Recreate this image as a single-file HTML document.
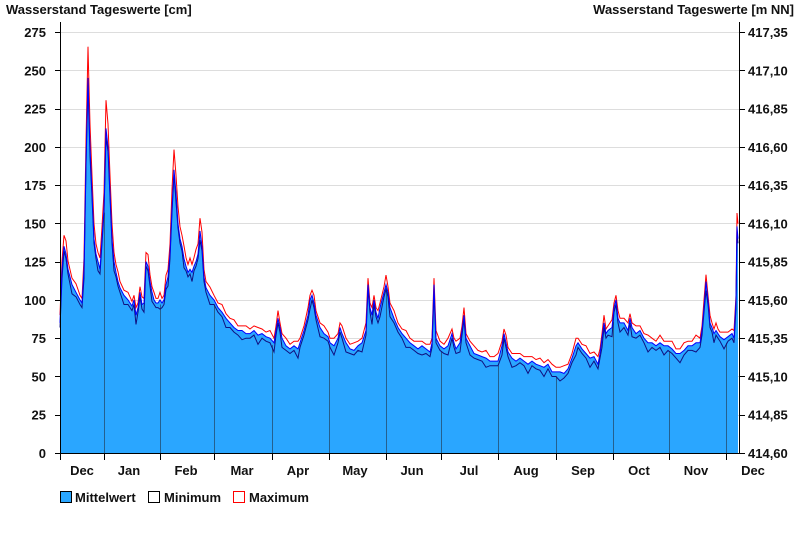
<!DOCTYPE html>
<html><head><meta charset="utf-8"><style>
body{margin:0;background:#fff;width:800px;height:550px;overflow:hidden}
svg text{font-family:"Liberation Sans",Arial,sans-serif;font-weight:bold;font-size:13px;fill:#111}
</style></head><body>
<svg id="s" width="800" height="550" xmlns="http://www.w3.org/2000/svg">
<g id="grid"></g>
<path id="fill" fill="#2aa6ff" stroke="none"/>
<g id="mlines"></g>
<path id="pmax" fill="none" stroke="#ff0000" stroke-width="1"/>
<path id="pmin" fill="none" stroke="#101080" stroke-width="1"/>
<path id="pmean" fill="none" stroke="#0000ff" stroke-width="1"/>
<line x1="60.5" y1="22" x2="60.5" y2="453" stroke="#000"/>
<line x1="739.5" y1="22" x2="739.5" y2="453" stroke="#000"/>
<line x1="60" y1="453.5" x2="740" y2="453.5" stroke="#000"/>
<g id="axes"></g>
<text x="6" y="14">Wasserstand Tageswerte [cm]</text>
<text x="794" y="14" text-anchor="end">Wasserstand Tageswerte [m NN]</text>
<rect x="60.5" y="491.5" width="11" height="11" fill="#2aa6ff" stroke="#000"/>
<text x="75" y="502">Mittelwert</text>
<rect x="148.5" y="491.5" width="11" height="11" fill="#fff" stroke="#000"/>
<text x="164" y="502">Minimum</text>
<rect x="233.5" y="491.5" width="11" height="11" fill="#fff" stroke="#f00"/>
<text x="249" y="502">Maximum</text>
</svg>
<script>
var Y=v=>453-v*421/275;
var g=document.getElementById('grid'),a=document.getElementById('axes'),ml=document.getElementById('mlines');
var h='',ax='';
for(var i=0;i<=11;i++){var v=i*25,y=Y(v);
 if(i>0)h+='<line x1="61" x2="739" y1="'+(Math.round(y)+.5)+'" y2="'+(Math.round(y)+.5)+'" stroke="#ddd"/>';
 ax+='<line x1="55" x2="60" y1="'+(Math.round(y)+.5)+'" y2="'+(Math.round(y)+.5)+'" stroke="#000"/>';
 ax+='<line x1="740" x2="745" y1="'+(Math.round(y)+.5)+'" y2="'+(Math.round(y)+.5)+'" stroke="#000"/>';
 ax+='<text x="46" y="'+(y+5)+'" text-anchor="end">'+v+'</text>';
 ax+='<text x="748" y="'+(y+5)+'">'+(414.60+i*0.25).toFixed(2).replace('.',',')+'</text>';}
g.innerHTML=h;
var d=[60,85,62,120,64,135,66,130,68,120,72,110,76,105,80,100,82,98,84,120,86,190,88,245,89,220,90,200,92,170,94,140,96,130,98,125,100,120,102,140,104,160,106,212,108,200,110,170,112,140,114,125,116,118,118,112,120,108,124,103,128,100,132,96,134,100,136,90,138,95,140,105,142,97,144,98,146,125,148,122,150,112,152,105,154,100,156,98,158,98,160,100,162,98,164,100,166,110,168,115,170,130,172,160,174,185,176,170,178,150,180,140,182,135,184,127,186,122,188,118,190,120,192,118,194,122,196,125,198,130,200,145,202,135,204,115,206,108,210,103,214,100,218,95,222,92,226,88,230,85,234,82,238,80,242,80,246,78,250,78,254,80,258,77,262,78,266,76,270,75,274,72,276,80,278,88,280,82,282,75,286,70,290,68,294,70,298,68,300,72,304,80,308,90,310,100,312,103,314,98,316,90,320,82,324,78,328,76,330,72,334,70,338,75,340,82,342,78,346,72,350,68,354,67,358,70,362,72,366,80,368,110,370,95,372,90,374,100,376,92,378,88,380,95,384,105,386,110,388,105,390,95,394,88,398,82,402,78,406,75,410,72,414,70,418,68,422,70,426,68,430,66,432,72,434,110,436,75,440,70,444,68,448,70,452,78,454,72,456,68,460,72,462,80,464,90,466,75,470,70,474,65,478,64,482,63,486,62,490,60,494,60,498,60,502,70,504,78,506,72,508,66,512,62,516,60,520,62,524,60,528,58,532,60,536,58,540,57,544,56,548,58,552,53,556,53,560,53,564,52,568,55,572,62,576,70,578,72,582,68,586,65,590,62,594,63,598,58,600,65,602,75,604,85,606,78,608,80,612,82,614,95,616,100,618,88,620,85,624,85,628,80,630,88,632,82,636,78,640,80,644,75,648,72,652,72,656,70,660,72,664,70,668,70,672,68,676,65,680,65,684,67,688,70,692,70,696,72,700,72,702,80,704,95,706,112,708,100,710,85,712,82,714,78,716,80,718,78,720,76,724,74,728,76,732,78,734,75,736,100,737,148,738,140];
function valAt(x){for(var i=2;i<d.length;i+=2){if(d[i]>=x){var x0=d[i-2],v0=d[i-1],x1=d[i],v1=d[i+1];return v0+(v1-v0)*(x-x0)/(x1-x0);}}return d[d.length-1];}
var mt=[60,104,160,214,272,329,386,441,498,556,613,669,726],m='';
mt.forEach(function(x,k){ax+='<line x1="'+(x+.5)+'" x2="'+(x+.5)+'" y1="453" y2="460" stroke="#000"/>';
 if(k>0)m+='<line x1="'+(x+.5)+'" x2="'+(x+.5)+'" y1="'+Y(valAt(x)-3)+'" y2="453" stroke="#24608f"/>';});
var lab=[["Dec",82],["Jan",129],["Feb",186],["Mar",242],["Apr",298],["May",355],["Jun",412],["Jul",469],["Aug",526],["Sep",583],["Oct",639],["Nov",696],["Dec",753]];
lab.forEach(function(l){ax+='<text x="'+l[1]+'" y="475" text-anchor="middle">'+l[0]+'</text>';});
a.innerHTML=ax;
var mean='',mn='',mx='';
for(var i=0;i<d.length;i+=2){var x=d[i],v=d[i+1],c=i?'L':'M';
 var hi=v+3+Math.max(0,(v-100)*0.12)+((i/2)%3==0?2:0);
 var lo=v-3-((i/2)%4==1?3:0);
 mean+=c+x+' '+Y(v).toFixed(1);mx+=c+x+' '+Y(hi).toFixed(1);mn+=c+x+' '+Y(lo).toFixed(1);}
document.getElementById('pmean').setAttribute('d',mean);
document.getElementById('pmax').setAttribute('d',mx);
document.getElementById('pmin').setAttribute('d',mn);
document.getElementById('fill').setAttribute('d',mean+'L738 453L61 453Z');
ml.innerHTML=m;
</script>
</body></html>
